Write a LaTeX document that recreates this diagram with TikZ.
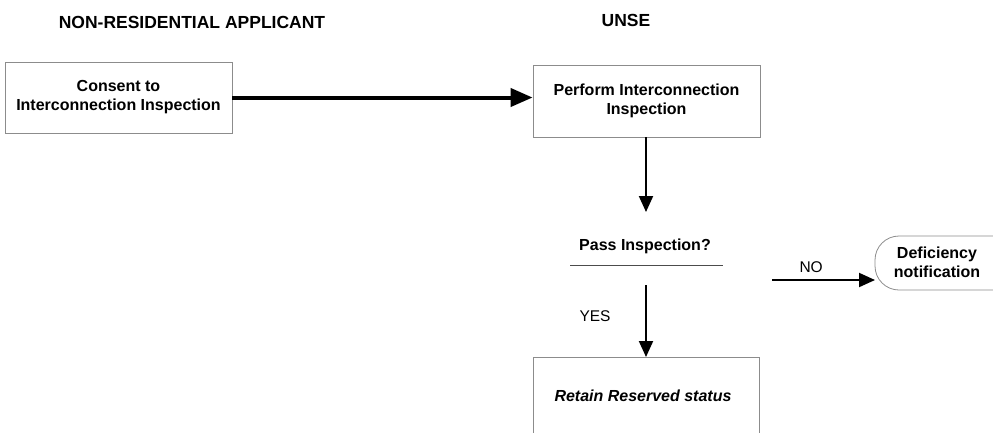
\documentclass[tikz,border=0pt]{standalone}
\usepackage{fontspec}
\setmainfont{Liberation Sans}
\usetikzlibrary{arrows.meta}
\begin{document}
\begin{tikzpicture}[x=1pt,y=-1pt,
  box/.style={draw=black!45,line width=0.8pt,align=center,font=\fontsize{16}{19}\selectfont\bfseries,inner sep=0pt},
  txt/.style={font=\fontsize{16}{19}\selectfont\bfseries,align=center},
  head/.style={font=\fontsize{17.5}{20}\selectfont\bfseries},
  lbl/.style={font=\fontsize{15.5}{18}\selectfont},
  edge/.style={draw=black!45,line width=0.8pt},
  flow/.style={-{Triangle[length=16pt,width=14pt]},line width=2pt},
  bigflow/.style={-{Triangle[length=22pt,width=18pt]},line width=4pt}]
\useasboundingbox (0,0) rectangle (993,432);
% column headings
\node[head] (hApp) at (192,22) {NON-RESIDENTIAL APPLICANT};
\node[head] (hUnse) at (626,20) {UNSE};
% process boxes
\node[box,minimum width=227pt,minimum height=71pt] (consent) at (118.5,97.5) {Consent to\\Interconnection Inspection};
\node[box,minimum width=227pt,minimum height=72pt] (perform) at (646.5,101) {Perform Interconnection\\Inspection};
% decision
\node[txt] (pass) at (645,246) {Pass Inspection?};
\coordinate (passL) at (570,265);
\coordinate (passR) at (723,265);
\draw[black!70,line width=0.7pt] (passL) -- (passR);
\coordinate (passTop) at (646,212);
\coordinate (passBot) at (646,285);
\coordinate (noStart) at (772,280);
% deficiency terminator, running off the right edge
\draw[edge,rounded corners=24pt] (1010,236) -- (875,236) -- (875,290) -- (1010,290);
\node[txt] (defic) at (937,262) {Deficiency\\notification};
\coordinate (deficL) at (875,280);
% final box, running off the bottom edge
\draw[edge] (533,450) -- (533,357) -- (759,357) -- (759,450);
\coordinate (retainTop) at (646,357);
\node[txt,font=\fontsize{16}{19}\selectfont\bfseries\itshape] (retain) at (643,396) {Retain Reserved status};
% connectors
\draw[bigflow] (consent.east) -- (consent.east -| perform.west);
\draw[flow] (perform.south -| passTop) -- (passTop);
\draw[flow] (noStart) -- node[lbl,above=3pt,pos=0.38] (noLbl) {NO} (deficL);
\draw[flow] (passBot) -- (retainTop);
\node[lbl] (yesLbl) at (595,316) {YES};
\end{tikzpicture}
\end{document}
